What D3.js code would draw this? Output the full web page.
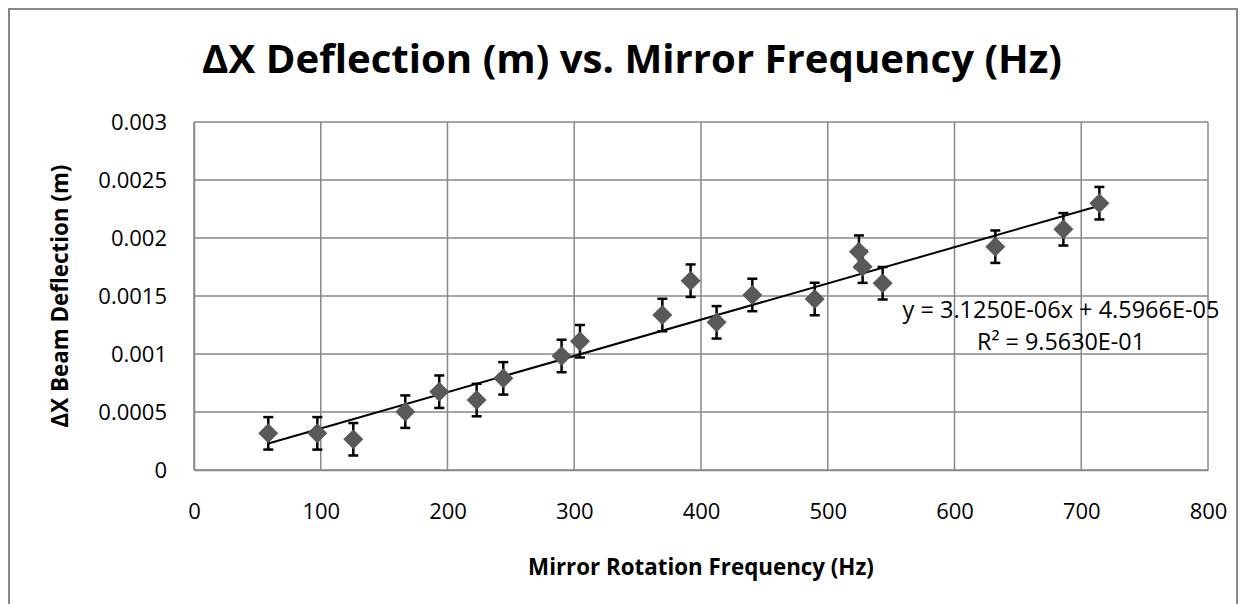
<!DOCTYPE html>
<html lang="en">
<head>
<meta charset="utf-8">
<title>Deflection vs Frequency</title>
<script src="https://cdn.jsdelivr.net/npm/d3@7"></script>
<style>
  body { margin: 0; background: #fff; }
  svg text { font-family: "Open Sans", sans-serif; fill: #000; }
</style>
</head>
<body>
<svg class="canvas"></svg>
<script>
// measured values
var freq = [58.6, 97.3, 125.7, 166.7, 193.5, 223, 244, 290, 304.5, 369.5,
            391.8, 412.3, 440.5, 489.7, 524.6, 527.5, 543.3, 632.2, 685.9, 714.3];
var defl = [0.000316, 0.000316, 0.000265, 0.000503, 0.000675, 0.000603, 0.00079,
            0.000983, 0.00111, 0.001336, 0.001632, 0.001273, 0.001509, 0.001474,
            0.001882, 0.001753, 0.00161, 0.001925, 0.002075, 0.0023];
var errBar = 0.00014;

var xTicks = [0, 100, 200, 300, 400, 500, 600, 700, 800];
var yTicks = [0, 0.0005, 0.001, 0.0015, 0.002, 0.0025, 0.003];
var yTickLabels = ["0", "0.0005", "0.001", "0.0015", "0.002", "0.0025", "0.003"];

var slope = 3.1250e-06, intercept = 4.5966e-05;
var eqLines = ["y = 3.1250E-06x + 4.5966E-05", "R\u00b2 = 9.5630E-01"];

var title = "\u0394X Deflection (m) vs. Mirror Frequency (Hz)";
var xTitle = "Mirror Rotation Frequency (Hz)";
var yTitle = "\u0394X Beam Deflection (m)";

(function () {
  var width = 1246, height = 604;
  var left = 194, right = 1208, top = 122, bottom = 470;
  var grid = "#888888";

  var svg = d3.select('.canvas')
      .attr('width', width)
      .attr('height', height);

  // fit a text element to a width measured off the reference
  function fit(sel, w) {
    var len = sel.node().getComputedTextLength();
    var fs = parseFloat(sel.style('font-size'));
    sel.style('font-size', (fs * w / len) + 'px');
  }

  // outer chart frame (bottom edge is off-screen)
  svg.append('rect')
      .attr('x', 9).attr('y', 9)
      .attr('width', 1228).attr('height', 700)
      .attr('fill', 'none')
      .attr('stroke', grid)
      .attr('stroke-width', 2);

  var x = d3.scaleLinear().domain([0, 800]).range([left, right]);
  var y = d3.scaleLinear().domain([0, 0.003]).range([bottom, top]);

  // gridlines
  svg.append('g').selectAll('line').data(xTicks).enter().append('line')
      .attr('x1', function(d) { return x(d); })
      .attr('x2', function(d) { return x(d); })
      .attr('y1', top).attr('y2', bottom)
      .attr('stroke', grid).attr('stroke-width', 1.5);
  svg.append('g').selectAll('line').data(yTicks).enter().append('line')
      .attr('y1', function(d) { return y(d); })
      .attr('y2', function(d) { return y(d); })
      .attr('x1', left).attr('x2', right)
      .attr('stroke', grid).attr('stroke-width', 1.5);

  // axes: labels only, Excel style
  var xAxis = svg.append('g')
      .attr('transform', 'translate(0,' + bottom + ')')
      .call(d3.axisBottom(x).tickValues(xTicks).tickSize(0).tickPadding(33));
  xAxis.select('.domain').attr('stroke', grid).attr('stroke-width', 1.5);
  xAxis.selectAll('text').style('font-size', '22px').style('font-family', '"Open Sans", sans-serif');

  var yAxis = svg.append('g')
      .attr('transform', 'translate(' + left + ',0)')
      .call(d3.axisLeft(y).tickValues(yTicks)
        .tickFormat(function(d, i) { return yTickLabels[i]; })
        .tickSize(0).tickPadding(27));
  yAxis.select('.domain').attr('stroke', grid).attr('stroke-width', 1.5);
  yAxis.selectAll('text').style('font-size', '22px').style('font-family', '"Open Sans", sans-serif');

  // trendline
  var xMin = d3.min(freq), xMax = d3.max(freq);
  svg.append('line')
      .attr('x1', x(xMin)).attr('y1', y(slope * xMin + intercept))
      .attr('x2', x(xMax)).attr('y2', y(slope * xMax + intercept))
      .attr('stroke', '#000').attr('stroke-width', 2);

  var pts = freq.map(function(f, i) { return {x: f, y: defl[i]}; });

  // error bars
  var eb = svg.append('g').selectAll('g').data(pts).enter().append('g')
      .attr('stroke', '#000').attr('stroke-width', 2.5);
  eb.append('line')
      .attr('x1', function(d) { return x(d.x); })
      .attr('x2', function(d) { return x(d.x); })
      .attr('y1', function(d) { return y(d.y - errBar); })
      .attr('y2', function(d) { return y(d.y + errBar); });
  eb.append('line')
      .attr('x1', function(d) { return x(d.x) - 5; })
      .attr('x2', function(d) { return x(d.x) + 5; })
      .attr('y1', function(d) { return y(d.y + errBar); })
      .attr('y2', function(d) { return y(d.y + errBar); });
  eb.append('line')
      .attr('x1', function(d) { return x(d.x) - 5; })
      .attr('x2', function(d) { return x(d.x) + 5; })
      .attr('y1', function(d) { return y(d.y - errBar); })
      .attr('y2', function(d) { return y(d.y - errBar); });

  // diamond markers
  svg.append('g').selectAll('path').data(pts).enter().append('path')
      .attr('d', 'M0,-10L10,0L0,10L-10,0Z')
      .attr('transform', function(d) { return 'translate(' + x(d.x) + ',' + y(d.y) + ')'; })
      .attr('fill', '#595959');

  // trendline label
  var eq = svg.append('g');
  eqLines.forEach(function(s, i) {
    var t = eq.append('text')
        .attr('x', 1061).attr('y', 318 + i * 32)
        .attr('text-anchor', 'middle')
        .style('font-size', '22px')
        .text(s);
    fit(t, i === 0 ? 317 : 168);
  });

  // titles
  var t1 = svg.append('text')
      .attr('x', 632).attr('y', 73)
      .attr('text-anchor', 'middle')
      .style('font-size', '40px').style('font-weight', 'bold')
      .text(title);
  fit(t1, 860);

  var t2 = svg.append('text')
      .attr('x', (left + right) / 2).attr('y', 575)
      .attr('text-anchor', 'middle')
      .style('font-size', '20px').style('font-weight', 'bold')
      .text(xTitle);
  fit(t2, 346);

  var t3 = svg.append('text')
      .attr('transform', 'translate(68,' + (top + bottom) / 2 + ') rotate(-90)')
      .attr('text-anchor', 'middle')
      .style('font-size', '20px').style('font-weight', 'bold')
      .text(yTitle);
  fit(t3, 263);
})();
</script>
</body>
</html>
